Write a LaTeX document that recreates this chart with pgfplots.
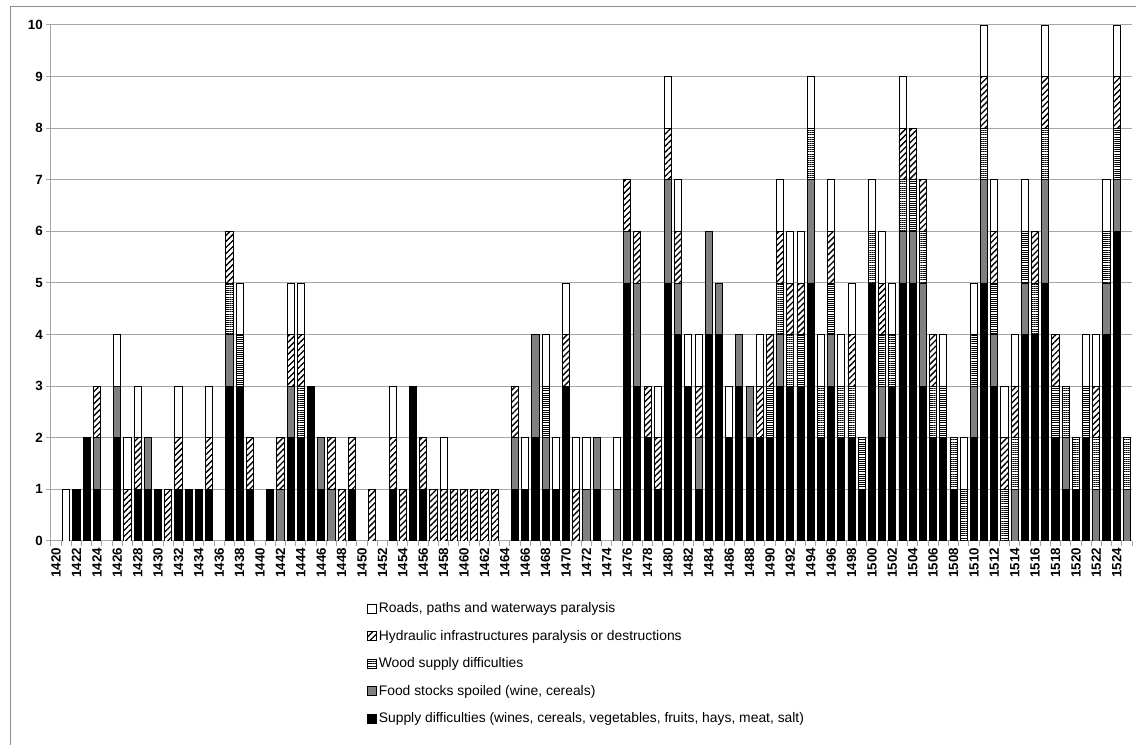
\documentclass[border=0pt]{standalone}
\usepackage{fontspec}
\setmainfont{Liberation Sans}
\usepackage{pgfplots}
\usepackage{pgfplotstable}
\pgfplotsset{compat=1.18}
\usetikzlibrary{patterns.meta}

\pgfplotstableread{
year B F W H R
1420 0 0 0 0 0
1421 0 0 0 0 1
1422 1 0 0 0 0
1423 2 0 0 0 0
1424 1 1 0 1 0
1425 0 0 0 0 0
1426 2 1 0 0 1
1427 0 0 0 1 1
1428 1 0 0 1 1
1429 1 1 0 0 0
1430 1 0 0 0 0
1431 0 0 0 1 0
1432 1 0 0 1 1
1433 1 0 0 0 0
1434 1 0 0 0 0
1435 1 0 0 1 1
1436 0 0 0 0 0
1437 3 1 1 1 0
1438 3 0 1 0 1
1439 1 0 0 1 0
1440 0 0 0 0 0
1441 1 0 0 0 0
1442 0 1 0 1 0
1443 2 1 0 1 1
1444 2 0 1 1 1
1445 3 0 0 0 0
1446 1 1 0 0 0
1447 0 1 0 1 0
1448 0 0 0 1 0
1449 1 0 0 1 0
1450 0 0 0 0 0
1451 0 0 0 1 0
1452 0 0 0 0 0
1453 1 0 0 1 1
1454 0 0 0 1 0
1455 3 0 0 0 0
1456 1 0 0 1 0
1457 0 0 0 1 0
1458 0 0 0 1 1
1459 0 0 0 1 0
1460 0 0 0 1 0
1461 0 0 0 1 0
1462 0 0 0 1 0
1463 0 0 0 1 0
1464 0 0 0 0 0
1465 1 1 0 1 0
1466 1 0 0 0 1
1467 2 2 0 0 0
1468 1 1 1 0 1
1469 1 0 0 0 1
1470 3 0 0 1 1
1471 0 0 0 1 1
1472 0 1 0 0 1
1473 1 1 0 0 0
1474 0 0 0 0 0
1475 0 1 0 0 1
1476 5 1 0 1 0
1477 3 2 0 1 0
1478 2 0 0 1 0
1479 1 0 0 1 1
1480 5 2 0 1 1
1481 4 1 0 1 1
1482 3 0 0 0 1
1483 1 1 0 1 1
1484 4 2 0 0 0
1485 4 1 0 0 0
1486 2 0 0 0 1
1487 3 1 0 0 0
1488 2 1 0 0 0
1489 2 0 0 1 1
1490 2 0 1 1 0
1491 3 1 1 1 1
1492 3 0 1 1 1
1493 3 0 1 1 1
1494 5 2 1 0 1
1495 2 0 1 0 1
1496 3 1 1 1 1
1497 2 0 1 0 1
1498 2 0 1 1 1
1499 1 0 1 0 0
1500 5 0 1 0 1
1501 2 1 1 1 1
1502 3 0 1 0 1
1503 5 1 1 1 1
1504 5 1 1 1 0
1505 3 2 1 1 0
1506 2 0 1 1 0
1507 2 0 1 0 1
1508 1 0 1 0 0
1509 0 0 1 0 1
1510 2 1 1 0 1
1511 5 2 1 1 1
1512 3 1 1 1 1
1513 0 0 1 1 1
1514 0 1 1 1 1
1515 4 1 1 0 1
1516 4 0 1 1 0
1517 5 2 1 1 1
1518 2 0 1 1 0
1519 1 1 1 0 0
1520 1 0 1 0 0
1521 2 0 1 0 1
1522 0 1 1 1 1
1523 4 1 1 0 1
1524 6 1 1 1 1
1525 0 1 1 0 0
}\datatable

\definecolor{midgray}{HTML}{808080}
\definecolor{gridgray}{HTML}{A6A6A6}
\definecolor{framegray}{HTML}{8C8C8C}

\begin{document}
\begin{tikzpicture}
\useasboundingbox (0,0) rectangle (852pt,558.75pt);
\draw[framegray, line width=0.75pt] (7.5pt,0pt) -- (7.5pt,553.5pt) -- (852pt,553.5pt);
\begin{axis}[
  at={(38.25pt,153pt)}, anchor=south west,
  scale only axis,
  width=810.75pt, height=387pt,
  ybar stacked, bar width=0.7, bar shift=0pt,
  xmin=1419.5, xmax=1525.5,
  ymin=0, ymax=10,
  xtick={1420,1422,...,1524},
  minor xtick={1419.5,1420.5,...,1525.5},
  ytick={0,1,...,10},
  minor ytick={0,1,...,10},
  major tick length=0pt,
  minor tick length=3.75pt,
  tick align=outside,
  tick style={gridgray, line width=0.75pt},
  axis lines*=left,
  axis line style={gridgray, line width=0.75pt},
  ymajorgrids,
  major grid style={gridgray, line width=0.75pt},
  /pgf/number format/assume math mode=true,
  /pgf/number format/1000 sep={},
  ticklabel style={font=\bfseries\fontsize{10}{11}\selectfont},
  xticklabel style={rotate=90, anchor=east, inner sep=5pt},
  yticklabel style={inner sep=6pt},
  legend style={at={(0.2886,-0.110)}, anchor=north west, draw=none, fill=none,
    font=\fontsize{10.4}{12}\selectfont, row sep=8.6pt,
    nodes={inner sep=1.5pt}},
  legend cell align=left,
  reverse legend,
  legend image code/.code={\draw[#1, line width=0.6pt] (0pt,-3.3pt) rectangle (6.6pt,3.3pt);},
  every axis plot/.append style={draw=black, line width=0.7pt},
]
\addplot[fill=black] table[x=year, y=B] {\datatable};
\addlegendentry{Supply difficulties (wines, cereals, vegetables, fruits, hays, meat, salt)}
\addplot[fill=midgray] table[x=year, y=F] {\datatable};
\addlegendentry{Food stocks spoiled (wine, cereals)}
\addplot[preaction={fill=white}, pattern={Lines[angle=0,distance=1.6pt,line width=0.65pt]}] table[x=year, y=W] {\datatable};
\addlegendentry{Wood supply difficulties}
\addplot[preaction={fill=white}, pattern={Lines[angle=45,distance=3.2pt,line width=1pt]}] table[x=year, y=H] {\datatable};
\addlegendentry{Hydraulic infrastructures paralysis or destructions}
\addplot[fill=white] table[x=year, y=R] {\datatable};
\addlegendentry{Roads, paths and waterways paralysis}
\end{axis}
\end{tikzpicture}
\end{document}
